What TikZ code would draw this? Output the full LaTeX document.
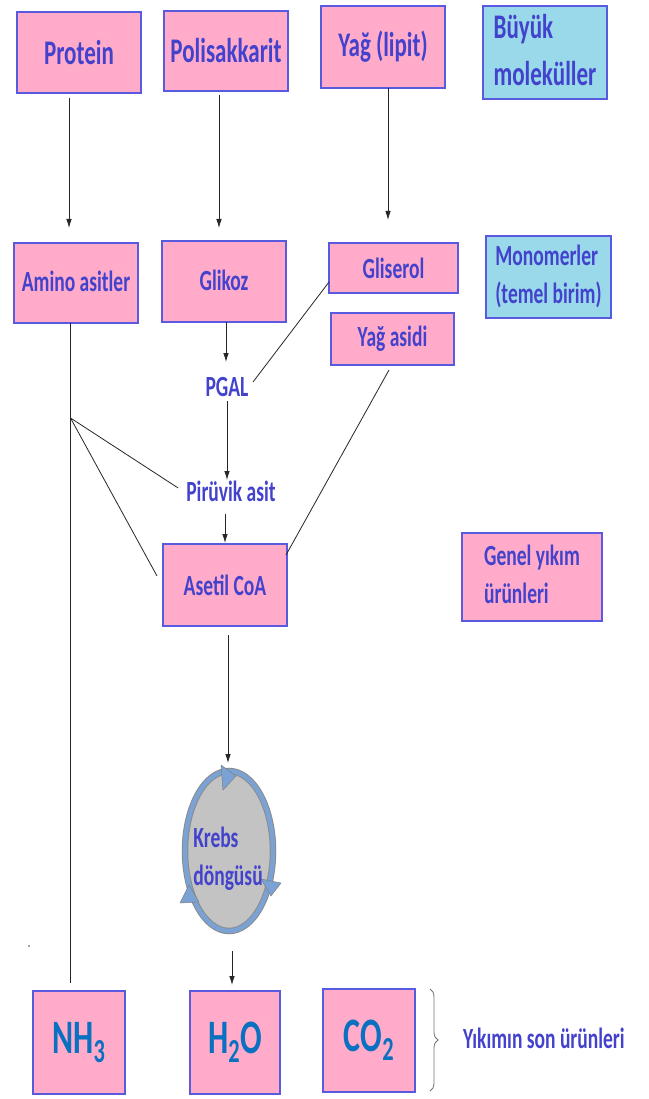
\documentclass[tikz,border=0pt]{standalone}
\usepackage{fontspec}
\setmainfont{Carlito}
\usetikzlibrary{arrows.meta,decorations.pathreplacing,shapes.geometric,calc}
\definecolor{pinkf}{HTML}{FFABC9}
\definecolor{bluef}{HTML}{99D9EA}
\definecolor{bord}{HTML}{5A5AE0}
\definecolor{txtc}{HTML}{4242CC}
\definecolor{chemc}{HTML}{0A70C0}
\definecolor{ringc}{HTML}{7AA2D4}
\definecolor{krebsg}{HTML}{C3C3C3}
\newcommand{\stt}[1]{\scalebox{1}[1.5]{#1}}
\newcommand{\fa}{\fontsize{23}{31}\selectfont}
\newcommand{\fb}{\fontsize{19.5}{25.5}\selectfont}
\newcommand{\fc}{\fontsize{32}{38}\selectfont}
\tikzset{
  box/.style={draw=bord, line width=1.3pt, fill=pinkf, inner sep=0pt, outer sep=0pt,
    anchor=north west, text=txtc, font=\bfseries, align=center},
  bbox/.style={box, fill=bluef},
  chem/.style={box, text=chemc},
  arr/.style={-{Latex[length=9pt,width=5.5pt]}, line width=0.8pt, draw=black!85},
  ln/.style={line width=0.8pt, draw=black!85},
  lbl/.style={text=txtc, font=\bfseries, inner sep=0pt},
  ringtip/.style={fill=ringc, draw=black!50, line width=0.5pt, line join=round},
}
\begin{document}
\begin{tikzpicture}[x=1pt,y=-1pt]
\useasboundingbox (0,0) rectangle (648,1099);
\fill[white] (0,0) rectangle (648,1099);

% top row
\node[box, minimum width=124pt, minimum height=81pt] (protein) at (17,12) {\stt{\fa Protein}};
\node[box, minimum width=124pt, minimum height=80pt] (polisak) at (164,11) {\stt{\fa Polisakkarit}};
\node[box, minimum width=124pt, minimum height=82pt] (yag) at (321,6) {\stt{\fa Yağ (lipit)}};
\node[bbox, minimum width=124pt, minimum height=82pt] (buyuk) at (483,6)
  {\stt{\fa\begin{tabular}{@{}l@{}}Büyük\\moleküller\end{tabular}}};

% monomers
\node[box, minimum width=124pt, minimum height=80pt] (amino) at (14,243) {\raisebox{4pt}{\stt{\fb Amino asitler}}};
\node[box, minimum width=124pt, minimum height=81pt] (glikoz) at (162,241) {\raisebox{3pt}{\stt{\fb Glikoz}}};
\node[box, minimum width=129pt, minimum height=50pt] (gliserol) at (329,243) {\stt{\fb Gliserol}};
\node[box, minimum width=123pt, minimum height=52pt] (yagasidi) at (331,313) {\stt{\fb Yağ asidi}};
\node[bbox, minimum width=125pt, minimum height=82pt] (mono) at (486,236)
  {\stt{\fb\begin{tabular}{@{}l@{}}Monomerler\\(temel birim)\end{tabular}}};

% intermediates
\node[lbl] (pgal) at (227,387) {\stt{\fb PGAL}};
\node[lbl] (piruvik) at (231,491) {\stt{\fb Pirüvik asit}};
\node[box, minimum width=124pt, minimum height=82pt] (asetil) at (163,544) {\stt{\fb Asetil CoA}};
\node[box, minimum width=140pt, minimum height=88pt] (genel) at (462,533)
  {\stt{\fb\begin{tabular}{@{}l@{}}Genel yıkım\\ürünleri\end{tabular}}};

% Krebs cycle
\node[ellipse, fill=krebsg, minimum width=92pt, minimum height=164pt, inner sep=0pt, outer sep=0pt] (krebs) at (229,851) {};
\draw[black!45, line width=6.5pt] (krebs.center) ellipse [x radius=44, y radius=80];
\draw[ringc, line width=4.5pt] (krebs.center) ellipse [x radius=44, y radius=80];
\filldraw[ringtip] ($(krebs.center)+(7,-75)$) -- ($(krebs.center)+(-8,-86)$) -- ($(krebs.center)+(-6,-61)$) -- cycle;
\filldraw[ringtip] ($(krebs.center)+(42,45)$) -- ($(krebs.center)+(32,28)$) -- ($(krebs.center)+(52,32)$) -- cycle;
\filldraw[ringtip] ($(krebs.center)+(-40,34)$) -- ($(krebs.center)+(-49,52)$) -- ($(krebs.center)+(-30,51)$) -- cycle;
\node[lbl] (krebstxt) at (228,859) {\stt{\fb\begin{tabular}{@{}l@{}}Krebs\\döngüsü\end{tabular}}};

% end products
\node[chem, minimum width=92pt, minimum height=103pt] (nh3) at (33,991) {\stt{\fc NH\textsubscript{3}}};
\node[chem, minimum width=90pt, minimum height=103pt] (h2o) at (190,991) {\stt{\fc H\textsubscript{2}O}};
\node[chem, minimum width=92pt, minimum height=103pt] (co2) at (323,989) {\stt{\fc CO\textsubscript{2}}};
\draw[black!55, line width=0.8pt, decorate, decoration={brace, amplitude=8pt}] (co2.north east) ++(15,0) coordinate (b1) -- ($(co2.south east)+(15,-1)$) coordinate (b2);
\node[lbl, anchor=west] (sonurun) at (463,1038) {\stt{\fb Yıkımın son ürünleri}};

% connectors
\draw[arr] ([xshift=-10pt,yshift=-5pt]protein.south) -- ([xshift=-7pt,yshift=15pt]amino.north);
\draw[arr] ([xshift=-7pt,yshift=-4pt]polisak.south) -- ([xshift=-5pt,yshift=13pt]glikoz.north);
\draw[arr] ([xshift=5pt]yag.south) -- ([xshift=-5.5pt,yshift=23pt]gliserol.north);
\draw[arr] ([xshift=2pt]glikoz.south) -- ([xshift=-1pt,yshift=25pt]pgal.center);
\draw[arr] ([yshift=-14pt]pgal.center) -- ([xshift=-4pt,yshift=11pt]piruvik.center);
\draw[arr] ([xshift=-6pt,yshift=-23pt]piruvik.center) -- ([yshift=1pt]asetil.north);
\draw[ln] ([yshift=11pt]gliserol.south west) -- ([xshift=26pt,yshift=5pt]pgal.center);
\draw[ln] ([xshift=-3.5pt,yshift=-5pt]yagasidi.south) -- ([xshift=-1pt,yshift=-11pt]asetil.north east);
\draw[ln] ([xshift=-5.5pt]amino.south) -- ([xshift=-8.5pt,yshift=8pt]nh3.north);
\coordinate (j) at ($(amino.south)+(-5.5,95)$);
\draw[ln] (j) -- ([xshift=-8pt,yshift=3pt]piruvik.west);
\draw[ln] (j) -- ([xshift=-6pt,yshift=9pt]asetil.west);
\draw[arr] ([xshift=3pt,yshift=-9pt]asetil.south) -- ([xshift=-1pt,yshift=6pt]krebs.north);
\draw[arr] ([xshift=3pt,yshift=-18pt]krebs.south) -- ([xshift=-3pt,yshift=6pt]h2o.north);
\fill[black!70] (29,946) circle (0.8);
\end{tikzpicture}
\end{document}
